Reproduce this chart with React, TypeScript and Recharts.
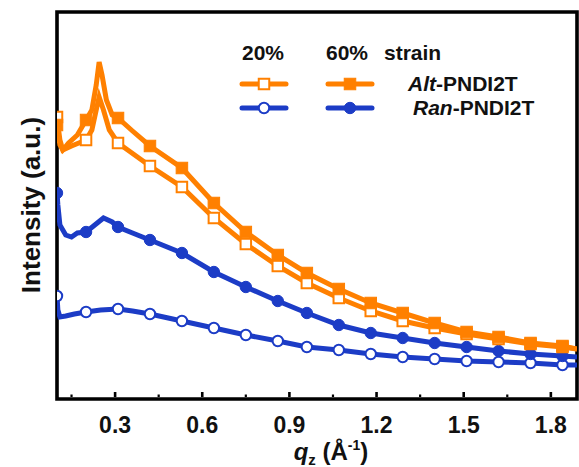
import { Line, LineChart, ReferenceArea, XAxis, YAxis } from "recharts";

// q_z (1/Å) and intensity (a.u.)
const qAlt60 = [0.1, 0.11, 0.12, 0.14, 0.17, 0.2, 0.22, 0.235, 0.245, 0.255, 0.27, 0.29, 0.31, 0.36, 0.42, 0.53, 0.64, 0.75, 0.86, 0.96, 1.07, 1.18, 1.29, 1.4, 1.51, 1.62, 1.73, 1.84, 1.89];
const iAlt60 = [274, 254, 249, 256, 264, 279, 289, 314, 337, 324, 299, 284, 281, 268, 253, 231, 196, 167, 144, 126, 110, 96, 86, 76, 67, 62, 56, 53, 50];

const qAlt20 = [0.1, 0.11, 0.12, 0.15, 0.2, 0.22, 0.235, 0.245, 0.26, 0.28, 0.31, 0.42, 0.53, 0.64, 0.75, 0.86, 0.96, 1.07, 1.18, 1.29, 1.4, 1.51, 1.62, 1.73, 1.84, 1.89];
const iAlt20 = [282, 259, 249, 253, 259, 269, 289, 302, 289, 269, 256, 233, 212, 181, 155, 133, 116, 101, 88, 78, 71, 65, 60, 55, 52, 50];

const qRan60 = [0.1, 0.103, 0.11, 0.13, 0.15, 0.17, 0.2, 0.23, 0.26, 0.29, 0.31, 0.36, 0.42, 0.53, 0.64, 0.75, 0.86, 0.96, 1.07, 1.18, 1.29, 1.4, 1.51, 1.62, 1.73, 1.84, 1.89];
const iRan60 = [206, 194, 174, 164, 162, 166, 167, 174, 181, 177, 172, 166, 159, 146, 127, 112, 98, 86, 74, 66, 61, 56, 52, 48, 45, 43, 42];

const qRan20 = [0.1, 0.103, 0.11, 0.13, 0.16, 0.2, 0.25, 0.31, 0.36, 0.42, 0.53, 0.64, 0.75, 0.86, 0.96, 1.07, 1.18, 1.29, 1.4, 1.51, 1.62, 1.73, 1.84, 1.89];
const iRan20 = [103, 89, 82, 83, 85, 87, 89, 90, 88, 85, 78, 71, 64, 58, 52, 49, 45, 42, 40, 38, 37, 36, 34, 34];

// q values where the symbols sit
const markerQ = [0.1, 0.2, 0.31, 0.42, 0.53, 0.64, 0.75, 0.86, 0.96, 1.07, 1.18, 1.29, 1.4, 1.51, 1.62, 1.73, 1.84];

const xTicks = [0.15, 0.3, 0.45, 0.6, 0.75, 0.9, 1.05, 1.2, 1.35, 1.5, 1.65, 1.8];

const ORANGE = "#FF8000";
const BLUE = "#1C3CC6";
const FONT = "'Liberation Sans', Arial, sans-serif";

const zip = (q: number[], v: number[]) => q.map((x, i) => ({ q: x, v: v[i] }));

type Shape = "square" | "circle";

function Marker({ cx, cy, shape, color, open }: { cx: number; cy: number; shape: Shape; color: string; open: boolean }) {
  if (shape === "square") {
    const s = open ? 10.5 : 11.5;
    return (
      <rect x={cx - s / 2} y={cy - s / 2} width={s} height={s}
        fill={open ? "#fff" : color} stroke={color} strokeWidth={open ? 2 : 1} />
    );
  }
  return <circle cx={cx} cy={cy} r={open ? 5.2 : 5.7} fill={open ? "#fff" : color} stroke={color} strokeWidth={open ? 2 : 1} />;
}

function makeDot(shape: Shape, color: string, open: boolean) {
  return (props: any) => {
    const { cx, cy, payload, index } = props;
    if (!markerQ.includes(payload.q)) return <g key={index} />;
    return (
      <g key={index}>
        <Marker cx={cx} cy={cy} shape={shape} color={color} open={open} />
      </g>
    );
  };
}

function QTick(props: any) {
  const { x, y, payload } = props;
  const major = Math.round(payload.value * 100) % 30 === 0;
  return (
    <g>
      <line x1={x} x2={x} y1={y - 2} y2={y - (major ? 7 : 4.5)} stroke="#000" strokeWidth={major ? 2.6 : 2.2} />
      {major && (
        <text x={x} y={y + 34} textAnchor="middle" fontFamily={FONT} fontWeight="bold" fontSize={23} fill="#111">
          {payload.value.toFixed(1)}
        </text>
      )}
    </g>
  );
}

function LegendRow({ y, shape, color, name, label, x }: { y: number; shape: Shape; color: string; name: string; label: string; x: number }) {
  return (
    <g>
      <line x1={242} x2={286} y1={y} y2={y} stroke={color} strokeWidth={5} strokeLinecap="round" />
      <Marker cx={264} cy={y} shape={shape} color={color} open />
      <line x1={328} x2={372} y1={y} y2={y} stroke={color} strokeWidth={5} strokeLinecap="round" />
      <Marker cx={350} cy={y} shape={shape} color={color} open={false} />
      <text x={x} y={y + 7} fontFamily={FONT} fontWeight="bold" fontSize={21} fill="#111">
        <tspan fontStyle="italic">{name}</tspan>
        <tspan>{label}</tspan>
      </text>
    </g>
  );
}

export default function App() {
  return (
    <div style={{ position: "fixed", left: 0, top: 0, width: 579, height: 467, background: "#fff" }}>
      <LineChart width={579} height={467} margin={{ top: 12, right: 2, bottom: 38, left: 57 }}>
        <XAxis
          dataKey="q"
          type="number"
          domain={[0.1, 1.89]}
          ticks={xTicks}
          allowDataOverflow
          axisLine={false}
          tickLine={false}
          tickSize={0}
          tickMargin={0}
          height={30}
          interval={0}
          tick={<QTick />}
        />
        <YAxis type="number" domain={[0, 387]} hide allowDataOverflow />
        <Line data={zip(qRan20, iRan20)} dataKey="v" stroke={BLUE} strokeWidth={5} dot={makeDot("circle", BLUE, true)} isAnimationActive={false} />
        <Line data={zip(qRan60, iRan60)} dataKey="v" stroke={BLUE} strokeWidth={5} dot={makeDot("circle", BLUE, false)} isAnimationActive={false} />
        <Line data={zip(qAlt20, iAlt20)} dataKey="v" stroke={ORANGE} strokeWidth={5} dot={makeDot("square", ORANGE, true)} isAnimationActive={false} />
        <Line data={zip(qAlt60, iAlt60)} dataKey="v" stroke={ORANGE} strokeWidth={5} dot={makeDot("square", ORANGE, false)} isAnimationActive={false} />
        <ReferenceArea x1={0.1} x2={1.89} y1={0} y2={387} fill="none" fillOpacity={0} stroke="#000" strokeWidth={3.6} ifOverflow="visible" />
        <text transform="translate(40,205) rotate(-90)" textAnchor="middle" fontFamily={FONT} fontWeight="bold" fontSize={26} fill="#111">
          Intensity (a.u.)
        </text>
        <text x={331} y={460} textAnchor="middle" fontFamily={FONT} fontWeight="bold" fontSize={24} fill="#111">
          <tspan fontStyle="italic">q</tspan>
          <tspan fontSize={15} dy={5}>z</tspan>
          <tspan dy={-5}> (Å</tspan>
          <tspan fontSize={14} dy={-10}>-1</tspan>
          <tspan dy={10}>)</tspan>
        </text>
        <g fontFamily={FONT} fontWeight="bold" fontSize={21} fill="#111">
          <text x={242} y={60}>20%</text>
          <text x={326} y={60}>60%</text>
          <text x={384} y={60}>strain</text>
        </g>
        <LegendRow y={84} shape="square" color={ORANGE} name="Alt" label="-PNDI2T" x={408} />
        <LegendRow y={108} shape="circle" color={BLUE} name="Ran" label="-PNDI2T" x={413} />
      </LineChart>
    </div>
  );
}
